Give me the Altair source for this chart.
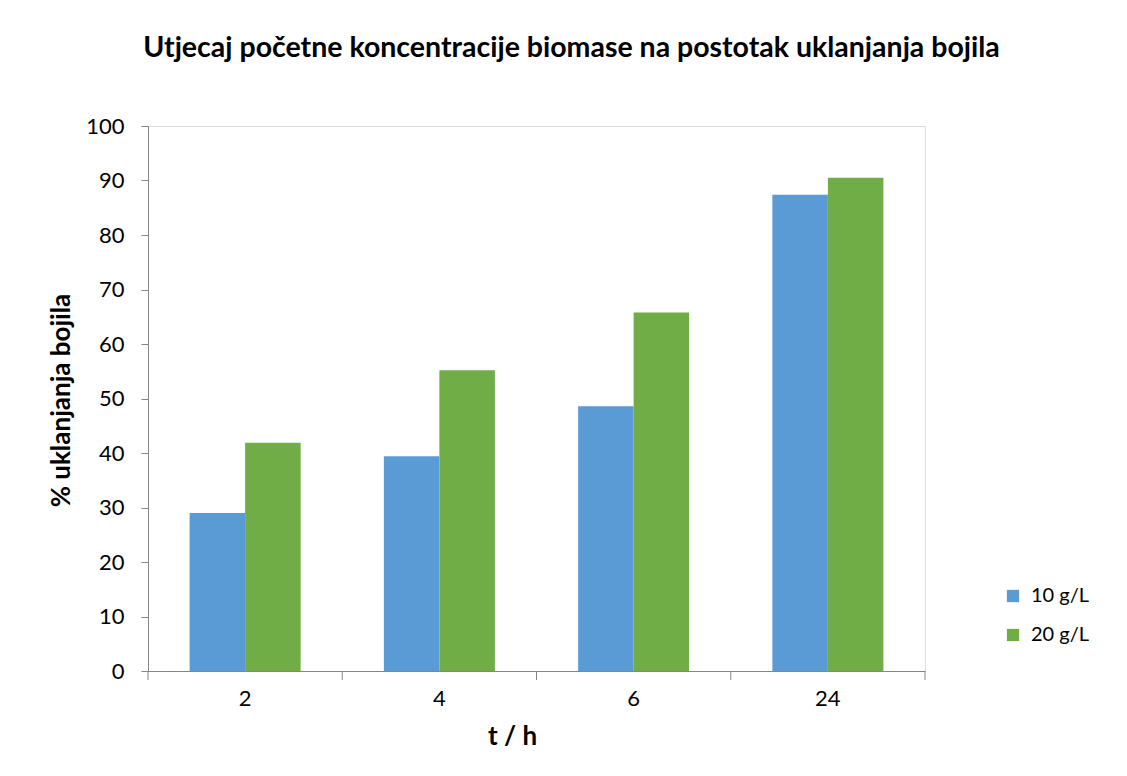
import altair as alt
import pandas as pd

# ---- data ----
times = ["2", "4", "6", "24"]
series = ["10 g/L", "20 g/L"]
removal_10 = [29.0, 39.4, 48.6, 87.4]
removal_20 = [41.9, 55.2, 65.8, 90.5]
y_ticks = list(range(0, 101, 10))
colors = ["#5B9BD5", "#70AD47"]

title_text = "Utjecaj početne koncentracije biomase na postotak uklanjanja bojila"
y_title = "% uklanjanja bojila"
x_title = "t / h"

rows = []
for t, a, b in zip(times, removal_10, removal_20):
    rows.append({"t": t, "s": series[0], "v": a})
    rows.append({"t": t, "s": series[1], "v": b})
df = pd.DataFrame(rows)
tick_df = pd.DataFrame({"t": times})
end_df = pd.DataFrame({"t": [times[-1]]})

FONT = "Lato"
AX = "#868686"
W, H = 777, 545

xscale = alt.Scale(domain=times, paddingInner=0, paddingOuter=0)

bars = alt.Chart(df).mark_bar().encode(
    x=alt.X("t:N", sort=times, scale=xscale,
            axis=alt.Axis(title=x_title, labelAngle=0, ticks=False,
                          labelPadding=17, labelFontSize=22, labelFont=FONT,
                          labelColor="black", domainColor=AX,
                          titleFontSize=26, titleFont=FONT, titleFontWeight="bold",
                          titleColor="black", titleX=364, titleY=73,
                          titleBaseline="alphabetic",
                          titleAnchor="start", titleAlign="center")),
    xOffset=alt.XOffset("s:N", sort=series,
                        scale=alt.Scale(paddingInner=0, paddingOuter=0.75)),
    y=alt.Y("v:Q", scale=alt.Scale(domain=[0, 100], nice=False),
            axis=alt.Axis(title=y_title, values=y_ticks, grid=False,
                          tickSize=7, tickColor=AX, domainColor=AX,
                          labelPadding=17, labelFontSize=22, labelFont=FONT,
                          labelColor="black",
                          titleFontSize=26, titleFont=FONT, titleFontWeight="bold",
                          titleColor="black", titleX=-74, titleY=274,
                          titleAnchor="middle")),
    color=alt.Color("s:N", sort=series,
                    scale=alt.Scale(domain=series, range=colors),
                    legend=alt.Legend(title=None, orient="none",
                                      legendX=855, legendY=460,
                                      symbolType="square", symbolSize=150,
                                      symbolStrokeWidth=0,
                                      labelFontSize=20, labelFont=FONT,
                                      labelColor="black", rowPadding=19,
                                      labelOffset=8)),
)

ticks = alt.Chart(tick_df).mark_rule(color=AX, strokeWidth=1).encode(
    x=alt.X("t:N", sort=times, scale=xscale, bandPosition=0),
    y=alt.value(H), y2=alt.value(H + 9),
)
end_tick = alt.Chart(end_df).mark_rule(color=AX, strokeWidth=1).encode(
    x=alt.X("t:N", sort=times, scale=xscale, bandPosition=1),
    y=alt.value(H), y2=alt.value(H + 9),
)

chart = alt.layer(bars, ticks, end_tick).properties(
    width=W, height=H,
    title=alt.TitleParams(title_text, fontSize=28.5, font=FONT, fontWeight="bold",
                          color="black", anchor="middle", dx=35, offset=53),
    autosize=alt.AutoSizeParams(type="none"),
    padding={"left": 140, "top": 118, "right": 180, "bottom": 90},
).configure_view(stroke=None).configure(background="white")

chart.save("out.html", embed_options={"renderer": "svg", "actions": False})
